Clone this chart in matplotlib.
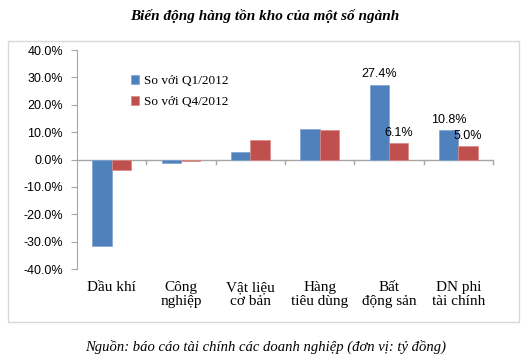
"""
Bien dong hang ton kho cua mot so nganh - grouped bar chart
"""

import numpy as np
import matplotlib
matplotlib.use("Agg")
import matplotlib.pyplot as plt
from matplotlib.patches import Rectangle
from matplotlib.ticker import FuncFormatter

# Data

categories = ["Dầu khí", "Công\nnghiệp", "Vật liệu\ncơ bản",
              "Hàng\ntiêu dùng", "Bất\nđộng sản", "DN phi\ntài chính"]
q1_2012 = [-31.6, -1.2, 2.6, 11.3, 27.4, 10.8]
q4_2012 = [-3.7, -0.5, 7.0, 10.9, 6.1, 5.0]
# only some bars carry a value label in the original
q1_labels = ["", "", "", "", "27.4%", "10.8%"]
q4_labels = ["", "", "", "", "6.1%", "5.0%"]
series_names = ["So với Q1/2012", "So với Q4/2012"]
yticks = [-40, -30, -20, -10, 0, 10, 20, 30, 40]

BLUE = "#4F81BD"
RED = "#C0504D"
GRID = "#A6A6A6"
SERIF = "Liberation Serif"
SANS = "Liberation Sans"

fig = plt.figure(figsize=(5.22, 3.58), dpi=100)
ax = fig.add_axes([0.1475, 0.2486, 0.797, 0.6117])

# outer frame around the chart
fig.patches.append(Rectangle((8 / 522, 1 - 322 / 358), 511 / 522, 281 / 358,
                             transform=fig.transFigure, fill=False,
                             edgecolor="#D9D9D9", linewidth=1.0))

x = np.arange(len(categories))
w = 0.28
b1 = ax.bar(x - w / 2, q1_2012, w, color=BLUE, edgecolor="#7FA3D0",
            linewidth=0.5, label=series_names[0])
b2 = ax.bar(x + w / 2, q4_2012, w, color=RED, edgecolor="#D88A88",
            linewidth=0.5, label=series_names[1])

ax.bar_label(b1, labels=q1_labels, padding=3, fontsize=9, family=SANS)
ax.bar_label(b2, labels=q4_labels, padding=3, fontsize=9, family=SANS)

ax.set_xlim(-0.5, len(categories) - 0.5)
ax.set_ylim(-40, 40)
ax.set_yticks(yticks)
ax.yaxis.set_major_formatter(FuncFormatter(lambda v, p: f"{v:.1f}%"))
for lab in ax.get_yticklabels():
    lab.set_family(SANS)
    lab.set_fontsize(9)

# x axis drawn at zero, category labels at the bottom
for side in ["top", "right", "bottom"]:
    ax.spines[side].set_visible(False)
ax.spines["left"].set_color(GRID)
ax.axhline(0, color=GRID, linewidth=1.0, zorder=0.5)
ax.tick_params(axis="y", direction="out", length=4, color=GRID, pad=6)

# tick marks between categories on the zero line
for xb in np.arange(0.5, len(categories), 1.0):
    ax.plot([xb, xb], [0, -1.5], color=GRID, linewidth=1.0, clip_on=False)
ax.set_xticks([])
for i, name in enumerate(categories):
    ax.text(i, -44.5, name, ha="center", va="top", family=SERIF,
            fontsize=11, linespacing=1.1)

leg = ax.legend(loc="upper left", bbox_to_anchor=(0.102, 0.94), frameon=False,
                handlelength=0.6, handleheight=0.6, handletextpad=0.4,
                labelspacing=0.7, prop={"family": SERIF, "size": 9.5})

fig.text(0.508, 1 - 16 / 358, "Biến động hàng tồn kho của một số ngành",
         ha="center", va="center", family=SERIF, style="italic",
         weight="bold", fontsize=11)
fig.text(0.508, 1 - 347 / 358,
         "Nguồn: báo cáo tài chính các doanh nghiệp (đơn vị: tỷ đồng)",
         ha="center", va="center", family=SERIF, style="italic", fontsize=10.5)

fig.savefig("out.png", dpi=100)
